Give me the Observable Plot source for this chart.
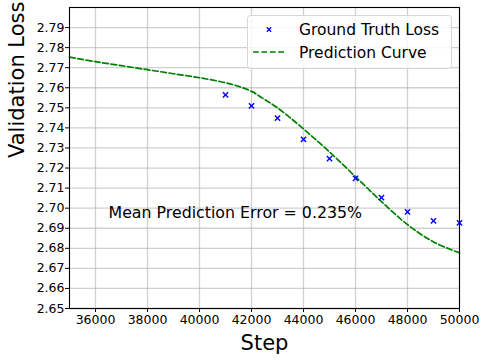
<!DOCTYPE html>
<html><head><meta charset="utf-8">
<script src="https://cdn.jsdelivr.net/npm/d3@7"></script>
<script src="https://cdn.jsdelivr.net/npm/@observablehq/plot@0.6"></script>
<style>body{margin:0;background:#fff}#chart svg{display:block}</style>
</head><body><div id="chart"></div>
<script>
const truthSteps = [41000, 42000, 43000, 44000, 45000, 46000, 47000, 48000, 49000, 50000];
const truthLoss  = [2.7565, 2.7510, 2.7449, 2.7343, 2.7247, 2.7148, 2.7052, 2.6982, 2.6937, 2.6927];
const curveSteps = [35000, 36000, 37000, 38000, 39000, 40000, 41000, 41500, 42000, 42500, 43000, 44000, 45000, 46000, 47000, 48000, 49000, 50000];
const curveLoss  = [2.7753, 2.7730, 2.7710, 2.7690, 2.7670, 2.7650, 2.7625, 2.7607, 2.7582, 2.7542, 2.7500, 2.7395, 2.7280, 2.7157, 2.7033, 2.6918, 2.6832, 2.6777];
const xTicks = [36000, 38000, 40000, 42000, 44000, 46000, 48000, 50000];
const yTicks = [2.65, 2.66, 2.67, 2.68, 2.69, 2.70, 2.71, 2.72, 2.73, 2.74, 2.75, 2.76, 2.77, 2.78, 2.79];
const xLabel = "Step";
const yLabel = "Validation Loss";
const annotationText = "Mean Prediction Error = 0.235%";
const annotationPos = [36500, 2.695];
const legendLabels = ["Ground Truth Loss", "Prediction Curve"];

const truth = truthSteps.map((s, i) => ({step: s, loss: truthLoss[i]}));
const curve = curveSteps.map((s, i) => ({step: s, loss: curveLoss[i]}));

const W = 487, H = 362;
const mL = 69, mR = 28, mT = 7, mB = 54;

const chart = Plot.plot({
  width: W, height: H,
  marginLeft: mL, marginRight: mR, marginTop: mT, marginBottom: mB,
  style: {fontFamily: "DejaVu Sans", background: "#fff", color: "#000"},
  x: {domain: [35000, 50000]},
  y: {domain: [2.65, 2.80]},
  marks: [
    Plot.gridX(xTicks, {stroke: "#b0b0b0", strokeOpacity: 0.6, strokeWidth: 1.3}),
    Plot.gridY(yTicks, {stroke: "#b0b0b0", strokeOpacity: 0.6, strokeWidth: 1.3}),
    Plot.line(curve, {x: "step", y: "loss", stroke: "#008000", strokeWidth: 1.7, strokeDasharray: "5.8,2.6", curve: "catmull-rom"}),
    Plot.dot(truth, {x: "step", y: "loss", symbol: "times", r: 2.5, stroke: "#0000ff", strokeWidth: 1.4}),
    Plot.text([annotationText], {x: () => annotationPos[0], y: () => annotationPos[1], textAnchor: "start", lineAnchor: "bottom", fontSize: 15.8, fill: "#000"}),
    Plot.frame({stroke: "#000", strokeWidth: 1.1}),
    Plot.axisX(xTicks, {tickFormat: "d", tickSize: 4, tickPadding: 3, fontSize: 12.5, label: null, stroke: "#000"}),
    Plot.axisY(yTicks, {tickFormat: ".2f", tickSize: 4, tickPadding: 1, fontSize: 12.5, label: null, stroke: "#000"}),
    Plot.text([xLabel], {frameAnchor: "bottom", dy: 41, fontSize: 21, fill: "#000"}),
    Plot.text([yLabel], {frameAnchor: "left", dx: -52, rotate: -90, fontSize: 21, fill: "#000"})
  ]
});
document.getElementById("chart").appendChild(chart);

// legend (upper right)
const svg = d3.select(chart);
const lg = svg.append("g").attr("font-family", "DejaVu Sans").attr("font-size", 15.5).attr("text-anchor", "start");
lg.append("rect").attr("x", 247.5).attr("y", 15.5).attr("width", 204).attr("height", 53)
  .attr("rx", 3).attr("fill", "#fff").attr("fill-opacity", 0.8).attr("stroke", "#d6d6d6");
lg.append("path").attr("d", d3.symbol(d3.symbolTimes, 14)())
  .attr("transform", "translate(269,29.5)").attr("stroke", "#0000ff").attr("stroke-width", 1.3).attr("fill", "none");
lg.append("line").attr("x1", 253).attr("x2", 286).attr("y1", 52).attr("y2", 52)
  .attr("stroke", "#008000").attr("stroke-width", 1.7).attr("stroke-dasharray", "5.8,2.6");
lg.append("text").attr("x", 299).attr("y", 29.5).attr("dy", "0.35em").attr("fill", "#000").text(legendLabels[0]);
lg.append("text").attr("x", 299).attr("y", 52.5).attr("dy", "0.35em").attr("fill", "#000").text(legendLabels[1]);
</script>
</body></html>
